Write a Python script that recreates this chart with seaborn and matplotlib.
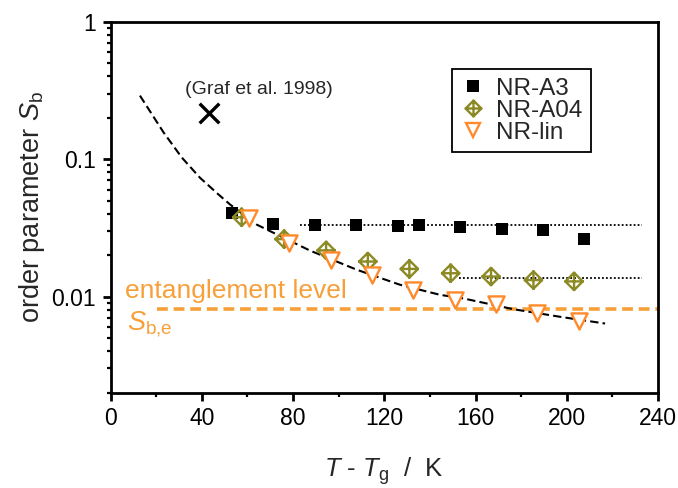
import numpy as np
import pandas as pd
import matplotlib
matplotlib.use("Agg")
import matplotlib.pyplot as plt
from matplotlib import ticker
from matplotlib.path import Path
from matplotlib.lines import Line2D
import seaborn as sns

# ---- data: T - Tg (K) and order parameter S_b ----
a3_T = [53.4, 71.4, 89.7, 107.6, 126.2, 135.2, 153.2, 171.5, 189.5, 207.6]
a3_S = [0.0406, 0.0338, 0.0334, 0.0334, 0.0325, 0.0333, 0.0319, 0.0313, 0.0304, 0.0262]

a04_T = [57.5, 76.1, 94.5, 112.8, 131.0, 149.1, 166.8, 185.4, 203.2]
a04_S = [0.0378, 0.0262, 0.0217, 0.0180, 0.0159, 0.0148, 0.0140, 0.0132, 0.0129]

lin_T = [60.7, 78.4, 96.7, 114.8, 132.8, 151.0, 169.0, 187.1, 205.4]
lin_S = [0.0374, 0.0245, 0.0185, 0.0144, 0.0112, 0.00944, 0.00877, 0.00754, 0.00663]

# guide curve through the linear-chain data
fit_T = [12.9, 23.2, 31.2, 39.2, 47.3, 52.4, 64.1, 87.5, 107.9, 126.9, 144.5, 154.7, 176.6, 197.1, 216.8]
fit_S = [0.290, 0.157, 0.103, 0.0733, 0.0554, 0.0468, 0.0334, 0.0216, 0.0157, 0.0122, 0.0103, 0.0097, 0.0081, 0.00713, 0.00637]

# plateau levels of the crosslinked samples
a3_plateau_T = [83.0, 232.9]
a3_plateau_S = [0.0330, 0.0330]
a04_plateau_T = [152.9, 232.9]
a04_plateau_S = [0.0137, 0.0137]

# entanglement level S_b,e
ent_T = [20.5, 240.0]
ent_S = [0.00807, 0.00807]

# literature value
graf_T = [43.3]
graf_S = [0.217]

series_labels = ["NR-A3", "NR-A04", "NR-lin"]

# ---- style ----
sns.set_style("ticks")
plt.rcParams["font.family"] = ["Liberation Sans", "DejaVu Sans"]
plt.rcParams["mathtext.fontset"] = "custom"
plt.rcParams["mathtext.rm"] = "Liberation Sans"
plt.rcParams["mathtext.it"] = "Liberation Sans:italic"
plt.rcParams["mathtext.bf"] = "Liberation Sans:bold"

black = "#000000"
olive = "#8c8a24"
orange = "#ff8a2c"
ent_orange = "#f7a03a"

# diamond with an inscribed cross
cross_diamond = Path(
    [(0, -1), (1, 0), (0, 1), (-1, 0), (0, -1),
     (0, -1.1), (0, 1.1), (-1.1, 0), (1.1, 0)],
    [Path.MOVETO, Path.LINETO, Path.LINETO, Path.LINETO, Path.CLOSEPOLY,
     Path.MOVETO, Path.LINETO, Path.MOVETO, Path.LINETO],
)

fig = plt.figure(figsize=(6.78, 4.88), dpi=100)
ax = fig.add_axes([0.163, 0.1953, 0.8075, 0.7602])

# lines
sns.lineplot(x=a3_plateau_T, y=a3_plateau_S, ax=ax, color=black, lw=1.3,
             linestyle=(0, (1, 1.2)), estimator=None, sort=False, zorder=2)
sns.lineplot(x=a04_plateau_T, y=a04_plateau_S, ax=ax, color=black, lw=1.3,
             linestyle=(0, (1, 1.2)), estimator=None, sort=False, zorder=2)
sns.lineplot(x=ent_T, y=ent_S, ax=ax, color=ent_orange, lw=2.6,
             linestyle=(0, (3, 1.6)), estimator=None, sort=False, zorder=2)
sns.lineplot(x=fit_T, y=fit_S, ax=ax, color=black, lw=1.5,
             linestyle=(0, (4, 2)), estimator=None, sort=False, zorder=3)

# markers
sns.scatterplot(x=a3_T, y=a3_S, ax=ax, marker="s", s=80, color=black,
                edgecolor=black, linewidth=0, zorder=4)
sns.scatterplot(x=a04_T, y=a04_S, ax=ax, marker=cross_diamond, s=190,
                color=olive, facecolor="none", edgecolor=olive,
                linewidth=1.7, zorder=5)
sns.scatterplot(x=lin_T, y=lin_S, ax=ax, marker="v", s=135, color=orange,
                facecolor="white", edgecolor=orange, linewidth=1.7, zorder=6)
sns.scatterplot(x=graf_T, y=graf_S, ax=ax, marker="x", s=200, color=black,
                linewidth=2.4, zorder=6)

# annotations
ax.text(65.1, 0.300, "(Graf et al. 1998)", fontsize=14, ha="center",
        va="baseline")
ax.text(6.4, 0.0098, "entanglement level", fontsize=19, color=ent_orange,
        ha="left", va="baseline")
ax.text(7.1, 0.00569, r"$\mathit{S}_\mathrm{b{,}e}$", fontsize=19.5,
        color=ent_orange, ha="left", va="baseline")

# axes
ax.set_yscale("log")
ax.set_xlim(0, 240)
ax.set_ylim(0.002, 1)
ax.xaxis.set_major_locator(ticker.MultipleLocator(40))
ax.xaxis.set_minor_locator(ticker.MultipleLocator(20))
ax.yaxis.set_major_locator(ticker.LogLocator(base=10))
ax.yaxis.set_minor_locator(ticker.LogLocator(base=10, subs=np.arange(2, 10)))
ax.yaxis.set_major_formatter(ticker.FuncFormatter(lambda v, _: f"{v:g}"))
ax.yaxis.set_minor_formatter(ticker.NullFormatter())

for sp in ax.spines.values():
    sp.set_visible(True)
    sp.set_linewidth(2.0)
    sp.set_color("black")
ax.tick_params(which="major", direction="out", length=5.5, width=2.0,
               labelsize=16.5, pad=5, colors="black")
ax.tick_params(which="minor", direction="out", length=3, width=1.6,
               colors="black")

ax.set_xlabel(r"$\mathit{T}$ - $\mathit{T}_\mathrm{g}$  /  K", fontsize=18.5,
              labelpad=18)
ax.set_ylabel(r"order parameter $\mathit{S}_\mathrm{b}$", fontsize=19.5,
              labelpad=3)

# legend
handles = [
    Line2D([], [], marker="s", ls="none", color=black, ms=8, mew=0),
    Line2D([], [], marker=cross_diamond, ls="none", mec=olive, mfc="none",
           ms=12.5, mew=1.7),
    Line2D([], [], marker="v", ls="none", mec=orange, mfc="white", ms=10.5,
           mew=1.7),
]
leg = ax.legend(handles, series_labels, loc="upper left",
                bbox_to_anchor=(0.624, 0.872), fontsize=17.5, frameon=True,
                fancybox=False, edgecolor="black", framealpha=1,
                handlelength=1.0, handletextpad=0.45, labelspacing=0.0,
                borderpad=0.35, borderaxespad=0)
leg.get_frame().set_linewidth(1.3)

fig.savefig("out.png", dpi=100)
